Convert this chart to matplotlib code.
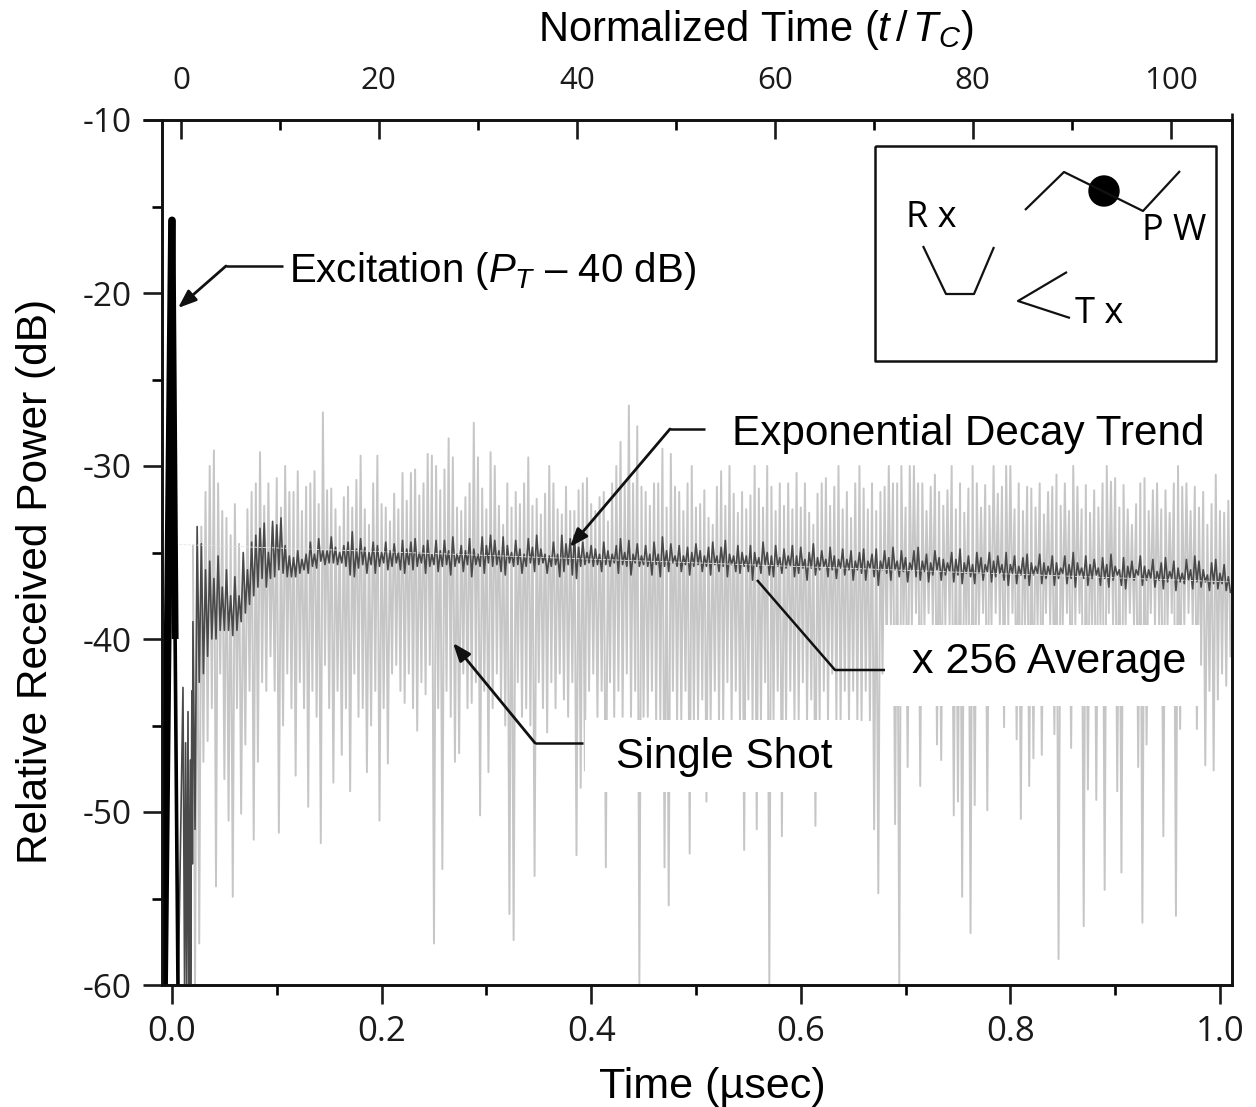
import numpy as np
import matplotlib
matplotlib.use("Agg")
import matplotlib.pyplot as plt
from matplotlib.lines import Line2D
from matplotlib.patches import Rectangle, Ellipse

# excitation pulse
exc_up_t = [-0.0075, 0.0]
exc_up_db = [-60, -15.8]
exc_down_t = [0.0, 0.003, 0.0057]
exc_down_db = [-15.8, -40, -60]

# single shot, one row is 0.048 usec, columns are 0.004 usec apart from 0.02
single_hi = [
    -34.6, -35, -33.5, -31.5, -30, -29.1, -31, -32.6, -33, -34, -32.2, -34.5,
    -35.5, -32.5, -31.5, -31, -29.2, -32.3, -31, -33.5, -30.7, -32.4, -30, -31.5,
    -31.5, -30.3, -32.6, -31.2, -31, -30.3, -32.2, -26.9, -31.4, -31.3, -32.5, -33.5,
    -31.8, -31.2, -32.4, -30.8, -29.4, -32.5, -33.4, -31, -29.4, -32.2, -32.4, -33.2,
    -31.6, -32.5, -30.4, -32, -30.4, -30.2, -31.7, -31, -29.3, -29.4, -30, -31.4,
    -30.2, -28.4, -29.5, -32.4, -32.6, -31.8, -31, -27.5, -29.5, -31.3, -32.5, -29.2,
    -30, -32.3, -33.4, -31, -32.4, -31.5, -32.2, -31, -29.5, -32.3, -31.9, -32.8,
    -31.6, -30, -31, -32.5, -32.8, -31.2, -32.6, -32.6, -31.4, -31, -30.7, -32.2,
    -32.6, -31.8, -31.5, -33.2, -31, -30, -28.6, -31, -26.5, -31, -27.7, -31.2,
    -31.5, -32.3, -31, -31, -29, -32.4, -29.3, -31.2, -31.5, -32.6, -31, -30,
    -32.4, -32.2, -31.4, -33, -33.4, -31.2, -30.3, -32.3, -30, -31.6, -32.7, -31.5,
    -32.5, -31.7, -30, -31.3, -32.4, -30, -31.2, -32.6, -31, -32.3, -31, -32.5,
    -30.4, -32.4, -31, -32.7, -33.4, -31.6, -31, -30.7, -32.3, -31.2, -30, -32.5,
    -31.5, -33, -31, -30, -31.3, -32.5, -31, -32.6, -31.5, -31.2, -30, -31,
    -31, -30, -32.4, -30, -30, -31, -31, -32.6, -31.2, -30.5, -31.5, -32.3,
    -31.4, -30, -32.5, -31, -32.7, -31.3, -30, -31, -32.4, -31.1, -32.3, -30,
    -31.6, -31.2, -30, -30, -32.5, -31, -32.6, -31.2, -31.3, -32.4, -31, -32.8,
    -31.5, -31.2, -30.5, -32.3, -31, -32.6, -30, -31.2, -32.5, -31.1, -32.7, -31.4,
    -32.4, -31, -30, -30.9, -30.7, -32.4, -31.1, -32.5, -33.4, -32.2, -31, -30.7,
    -32.6, -31.4, -31, -32.5, -31.4, -32.7, -31, -30, -31.2, -31, -32.6, -31.2,
    -32.4, -31.5, -33.4, -32.2, -30.5, -32.6, -32.7, -32,
]
single_lo = [
    -60, -57.6, -47.1, -45.9, -44, -54.3, -42, -48.1, -50.5, -54.9, -44, -50.1,
    -46.1, -43, -51.6, -47.1, -42.5, -43, -41, -43, -51.2, -45, -42, -44,
    -47.9, -42.5, -44, -49.7, -43, -44.5, -51.8, -41.5, -44, -48.3, -43, -46.7,
    -44, -48.8, -42, -44.5, -44, -47.7, -45, -43, -50.5, -44, -47.2, -42,
    -41.5, -43, -43.7, -42, -44, -45.3, -42.5, -43.2, -41.5, -57.6, -44, -53.3,
    -43, -44.5, -47.1, -46.6, -42, -44, -43.7, -42.5, -50.2, -43, -47.7, -44,
    -42, -43.5, -45, -55.9, -57.4, -42.5, -44.5, -44, -45, -53.7, -42.5, -44,
    -45.4, -42.5, -44, -42, -43.5, -44.5, -42.5, -52.5, -48.6, -47.6, -43, -42,
    -44.5, -43, -53.2, -42.5, -44.5, -43, -44.5, -42, -44.5, -43, -60, -44.5,
    -44.5, -43, -44.7, -44.7, -53.2, -55.4, -43, -44.7, -44.7, -43, -52.4, -44.7,
    -44.7, -43.5, -49.4, -44.7, -43, -44.7, -44.7, -42.5, -44.7, -43, -44.7, -52.2,
    -43.5, -44.7, -51, -44.7, -42.5, -60, -44.7, -43, -51.4, -44.7, -43, -44.7,
    -44.7, -42.5, -44.7, -43.5, -50.8, -44.7, -43, -44.7, -42, -44.7, -44.7, -43,
    -44.7, -43, -44.7, -44.7, -43, -44.7, -51, -54.7, -42, -41, -39.2, -50.7,
    -60, -39.2, -47.4, -39.2, -38.5, -48.5, -39.2, -38.5, -39.2, -46.1, -47, -39.2,
    -39.2, -50.2, -49.4, -54.9, -39.2, -57, -49.6, -39.2, -38.5, -49.9, -39.2, -38.5,
    -39.2, -45.1, -39.2, -38.5, -45.8, -50.4, -39.2, -48.5, -46.9, -39.2, -46.7, -38.5,
    -39.2, -45.5, -58.5, -39.2, -38.5, -46.3, -39.2, -38.5, -56.6, -48.7, -39.2, -49.3,
    -39.2, -54.5, -38.5, -39.2, -48.8, -53.5, -39.2, -38.5, -39.2, -47.4, -56.4, -46.1,
    -38.5, -39.2, -39.2, -51.4, -39.2, -38.5, -56, -45.2, -39.2, -38.5, -39.2, -45.2,
    -41.5, -47.3, -43, -47.6, -43.5, -42, -42.7, -41,
]

# x 256 average, same columns, plus the part right after the pulse
avg_early_t = [0.006, 0.0105, 0.012, 0.013, 0.014, 0.0153, 0.016, 0.0175, 0.0178, 0.0185, 0.019, 0.0195]
avg_early_db = [-60, -42.8, -60, -46, -60, -44.2, -60, -47, -60, -49, -43, -53]
avg_hi = [
    -39, -33.5, -34.5, -36, -35.5, -36.5, -35.2, -37, -36, -37.5, -36.4, -37.5,
    -35, -36, -34.4, -34, -33.6, -33.3, -35, -33.2, -33.4, -33, -34.6, -35.2,
    -35.3, -34.9, -35.4, -35.1, -34.4, -35.1, -34.2, -34.9, -34.9, -34.1, -34.7, -35,
    -34.6, -34.4, -33.8, -34.8, -34.2, -34.7, -35, -34.4, -34.6, -35, -34.4, -34.9,
    -34.5, -35, -34.3, -34.8, -34.4, -34.2, -35, -34.6, -34.3, -35.1, -34.3, -34.9,
    -34.3, -34.9, -34.1, -35.1, -34.6, -34.9, -34.2, -34.8, -35.1, -34.1, -34.6, -34,
    -34.3, -34.9, -34.1, -34.6, -35, -34.3, -34.8, -35.1, -34.2, -34.7, -34, -34.8,
    -35.1, -35.2, -34.4, -35.1, -34, -34.5, -34.2, -34, -34.7, -34.4, -35, -34.6,
    -34.8, -35.1, -34.4, -34.9, -35.1, -34.6, -34.2, -35, -34.3, -35.1, -34.5, -35.2,
    -34.6, -35.1, -34.4, -35.1, -34.1, -34.9, -34.5, -35.2, -34.6, -35.2, -34.7, -35,
    -34.5, -34.9, -35.2, -34.7, -34.4, -35.2, -34.7, -34.3, -35.1, -35.2, -34.6, -35,
    -35.2, -34.6, -35, -35.3, -34.4, -35, -35.2, -34.6, -35.3, -34.8, -35.2, -34.6,
    -35.2, -34.7, -35.4, -35, -34.5, -35.3, -34.9, -35.4, -34.7, -35.2, -35.4, -34.8,
    -35.4, -34.9, -35.5, -35, -34.8, -35.5, -35.1, -34.8, -35.5, -34.9, -35.3, -34.7,
    -35.5, -34.9, -35.3, -35.6, -34.9, -34.7, -35.5, -35.1, -35.6, -34.9, -35.3, -35.4,
    -35.6, -35, -35.4, -34.8, -35.6, -35.2, -35.7, -35, -35.3, -35.7, -35, -35.5,
    -35.2, -35.7, -35, -35.7, -35.2, -35.8, -35.3, -35.1, -35.6, -35.8, -35.1, -35.6,
    -35.8, -35.2, -35.6, -35.9, -35.2, -35.7, -35, -35.6, -35.9, -35.2, -35.7, -35.4,
    -35.9, -35.3, -35.7, -35.1, -35.8, -36, -35.3, -35.8, -35.5, -36, -35.2, -35.8,
    -36, -35.4, -36.1, -35.6, -35.3, -36.1, -35.5, -35.9, -36.2, -35.4, -36, -35.2,
    -35.5, -36, -36.3, -35.6, -35.4, -36.2, -35.7, -36.4,
]
avg_lo = [
    -51, -42.5, -42, -41, -40, -40, -39.5, -39.5, -39.5, -39.8, -39.5, -39,
    -38.5, -38, -37.5, -37, -36.5, -37, -36.5, -36.4, -36, -36.2, -36.4, -36.4,
    -36.4, -36.2, -36, -36.2, -35.8, -35.9, -35.5, -35.7, -35.6, -35.6, -35.7, -35.6,
    -35.8, -36.3, -36.4, -35.9, -35.7, -36.2, -35.7, -36.2, -35.8, -35.6, -36, -35.8,
    -35.6, -36, -36.2, -35.7, -36, -35.8, -35.6, -36.2, -35.8, -35.7, -36.1, -35.8,
    -35.7, -36.3, -35.8, -35.6, -36.1, -35.7, -36.4, -35.7, -35.8, -36.2, -35.6, -35.8,
    -35.7, -36.1, -36.3, -35.6, -35.8, -35.7, -36.2, -35.8, -35.6, -36.1, -35.7, -35.6,
    -36.2, -35.8, -35.7, -36.4, -36.1, -35.7, -36.3, -36.5, -35.8, -35.7, -35.6, -35.8,
    -35.7, -36.1, -35.7, -35.8, -35.6, -36.2, -35.7, -35.8, -36.3, -35.6, -35.8, -35.7,
    -35.8, -36.3, -35.7, -36.4, -35.8, -36.1, -35.6, -35.8, -36.1, -35.7, -36.3, -35.8,
    -35.7, -36.1, -35.8, -36.3, -35.7, -36.1, -35.8, -36.4, -35.7, -36.1, -36.2, -35.8,
    -36.1, -36.6, -35.8, -36.2, -35.7, -36.3, -36.4, -35.8, -36.2, -35.9, -35.8, -36.4,
    -36.2, -35.9, -36.6, -35.9, -36.3, -36, -35.8, -36.4, -36, -36.5, -35.9, -36.3,
    -36, -36.6, -36, -36.2, -36.6, -35.9, -36.4, -36.9, -36, -36.2, -36.6, -36,
    -36.4, -36.1, -36.7, -36, -36.4, -36.6, -36.1, -36.7, -36.3, -36, -36.6, -36.3,
    -36.1, -36.7, -36.3, -36.8, -36.2, -36.4, -36.8, -36.2, -36.6, -36.1, -36.7, -36.4,
    -36.2, -36.6, -36.9, -36.2, -36.8, -36.3, -36.5, -36.9, -36.3, -36.2, -36.8, -36.5,
    -36.3, -36.9, -36.5, -36.2, -36.8, -36.5, -37, -36.3, -36.5, -36.9, -36.5, -36.3,
    -36.9, -36.5, -37, -36.6, -36.3, -36.9, -37.1, -36.5, -36.6, -36.3, -36.9, -36.6,
    -36.5, -37, -36.6, -37.1, -36.7, -36.5, -37.2, -36.7, -36.8, -36.6, -37.1, -36.7,
    -37, -36.7, -37.2, -36.8, -37.1, -36.8, -37.2, -37.3,
]

# decay trend
trend_t = [-0.01, 1.01]
trend_db = [-34.5, -36.7]

time_ticks = [0.0, 0.2, 0.4, 0.6, 0.8, 1.0]
time_minor = [0.1, 0.3, 0.5, 0.7, 0.9]
norm_ticks = [0, 20, 40, 60, 80, 100]
norm_minor = [10, 30, 50, 70, 90]
db_ticks = [-10, -20, -30, -40, -50, -60]
db_minor = [-15, -25, -35, -45, -55]

W = 1256
H = 1107


def px(x, y):
    # reference pixels to figure fraction
    return x / W, 1 - y / H


def fig_line(fig, xs, ys, lw=1.8):
    pts = [px(x, y) for x, y in zip(xs, ys)]
    fig.add_artist(Line2D([p[0] for p in pts], [p[1] for p in pts], color="#111111",
                          lw=lw, transform=fig.transFigure, solid_capstyle="butt"))


def fig_arrow(fig, start, tip):
    fig.axes[0].annotate("", xy=px(*tip), xytext=px(*start), xycoords="figure fraction",
                         textcoords="figure fraction", zorder=9, annotation_clip=False,
                         arrowprops=dict(arrowstyle="-|>,head_length=1.1,head_width=0.42",
                                         color="#111111", lw=2.0, shrinkA=0, shrinkB=0))


def main():
    plt.rcParams["font.family"] = "Liberation Sans"
    plt.rcParams["axes.unicode_minus"] = False
    plt.rcParams["mathtext.fontset"] = "custom"
    plt.rcParams["mathtext.rm"] = "Liberation Sans"
    plt.rcParams["mathtext.it"] = "Liberation Sans:italic"

    fig = plt.figure(figsize=(W / 100, H / 100), dpi=100)
    left, bottom = px(161.5, 985)
    right, top = px(1232, 120)
    ax = fig.add_axes([left, bottom, right - left, top - bottom])

    t = 0.02 + 0.004 * np.arange(len(single_hi))
    single_t = np.column_stack((t, t + 0.002)).ravel()
    single_db = np.column_stack((single_hi, single_lo)).ravel()
    ax.plot(single_t, single_db, color="#c6c6c6", lw=1.4, zorder=2)

    t2 = 0.02 + 0.004 * np.arange(len(avg_hi))
    avg_t = np.concatenate((avg_early_t, np.column_stack((t2, t2 + 0.002)).ravel()))
    avg_db = np.concatenate((avg_early_db, np.column_stack((avg_hi, avg_lo)).ravel()))
    ax.plot(avg_t, avg_db, color="#4a4a4a", lw=1.2, zorder=3)
    ax.plot(trend_t, trend_db, color="#e6e6e6", lw=0.6, ls="--", zorder=4)

    ax.plot(exc_up_t, exc_up_db, color="black", lw=5.5, zorder=5, solid_capstyle="round")
    ax.plot(exc_down_t[:2], exc_down_db[:2], color="black", lw=5, zorder=5, solid_capstyle="butt")
    ax.plot(exc_down_t[1:], exc_down_db[1:], color="black", lw=2.6, zorder=5)

    # white label backgrounds cut the traces like in the original figure
    for x0, y0, x1, y1 in [(725, 405, 1220, 465), (885, 625, 1200, 706), (585, 720, 860, 792)]:
        fa, fb = px(x0, y1)
        fc, fd = px(x1, y0)
        ax.add_patch(Rectangle((fa, fb), fc - fa, fd - fb, transform=fig.transFigure,
                               color="white", zorder=6, lw=0))

    ax.set_xlim(-0.01, 1.0115)
    ax.set_ylim(-60, -10)
    ax.set_xticks(time_ticks)
    ax.set_xticklabels(["%.1f" % v for v in time_ticks])
    ax.set_xticks(time_minor, minor=True)
    ax.set_yticks(db_ticks)
    ax.set_yticks(db_minor, minor=True)

    ax.tick_params(axis="both", which="major", direction="out", length=13.5, width=1.9,
                   labelfontfamily="Open Sans", pad=8, colors="#1a1a1a")
    ax.tick_params(axis="x", which="major", labelsize=25)
    ax.tick_params(axis="y", which="major", labelsize=24)
    ax.tick_params(axis="both", which="minor", direction="out", length=7, width=1.9)

    top_ax = ax.twiny()
    top_ax.set_xlim(-1.97, 106.2)
    top_ax.set_xticks(norm_ticks)
    top_ax.set_xticks(norm_minor, minor=True)
    top_ax.tick_params(axis="x", which="major", direction="in", length=13.5, width=1.9,
                       labelsize=22.5, labelfontfamily="Open Sans", pad=17, colors="#1a1a1a")
    top_ax.tick_params(axis="x", which="minor", direction="in", length=7, width=1.9)
    for a in (ax, top_ax):
        for s in a.spines.values():
            s.set_linewidth(1.9)
            s.set_color("#111111")

    fig_line(fig, [1232, 1232], [113, 120], lw=1.9)
    fig_line(fig, [143, 162], [120, 120], lw=1.9)

    fig.text(*px(756, 30), r"Normalized Time ($t\,/\,T_C$)", fontsize=30, ha="center", va="center")
    fig.text(*px(712, 1087), "Time (µsec)", fontsize=31, ha="center", va="center")
    fig.text(*px(36, 581), "Relative Received Power (dB)", fontsize=30.5, rotation=90,
             ha="center", va="center")

    # callouts
    fig.text(*px(289, 271), r"Excitation ($P_T$ – 40 dB)", fontsize=29, ha="left", va="center")
    fig_line(fig, [283, 226], [266, 266])
    fig_arrow(fig, (226, 266), (178, 308))

    fig.text(*px(732, 434), "Exponential Decay Trend", fontsize=30.4, ha="left", va="center")
    fig_line(fig, [705, 670], [429, 429])
    fig_arrow(fig, (670, 429), (570, 547))

    fig.text(*px(912, 662), "x 256 Average", fontsize=31, ha="left", va="center")
    fig_line(fig, [885, 835, 757], [670, 670, 580])

    fig.text(*px(616, 757), "Single Shot", fontsize=30.4, ha="left", va="center")
    fig_line(fig, [583, 535], [743, 743])
    fig_arrow(fig, (535, 743), (453, 643))

    # scattering setup inset
    fig_line(fig, [875, 875, 1216, 1216, 875], [146, 361, 361, 146, 146], lw=1.8)
    fig_line(fig, [1025, 1064, 1143, 1180], [210, 172, 211, 171], lw=1.6)
    fig_line(fig, [923, 946, 974, 994], [246, 294, 294, 247], lw=1.6)
    fig_line(fig, [1067, 1018, 1070], [272, 301, 318], lw=1.6)
    cx, cy = px(1104, 191)
    fig.add_artist(Ellipse((cx, cy), 30 / W, 30 / H, color="black", transform=fig.transFigure))
    for x, y, s in [(931, 218, "R x"), (1174, 231, "P W"), (1099, 314, "T x")]:
        fig.text(*px(x, y), s, fontsize=26, family="Open Sans", ha="center", va="center", zorder=10)

    fig.savefig("out.png", dpi=100)


if __name__ == "__main__":
    main()
